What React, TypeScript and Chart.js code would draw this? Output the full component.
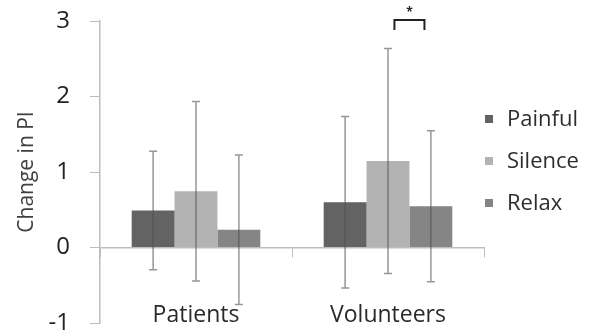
import React, { useEffect, useRef } from 'react';
import { Chart, registerables } from 'chart.js';

Chart.register(...registerables);

const categories = ['Patients', 'Volunteers'];
const seriesNames = ['Painful', 'Silence', 'Relax'];
const painful = [0.49, 0.6];
const silence = [0.745, 1.145];
const relax = [0.235, 0.545];
const painfulErr = [0.785, 1.135];
const silenceErr = [1.19, 1.49];
const relaxErr = [0.99, 1.0];
const yMin = -1;
const yMax = 3;
const yStep = 1;
const significanceLabel = '*';

const seriesValues = [painful, silence, relax];
const seriesErrors = [painfulErr, silenceErr, relaxErr];
const colors = ['#636363', '#b3b3b3', '#858585'];
const FONT = '"Open Sans", "Liberation Sans", sans-serif';

const errorBarsPlugin = {
  id: 'errorBars',
  afterDatasetsDraw(chart: any) {
    const ctx = chart.ctx;
    const y = chart.scales.y;
    chart.data.datasets.forEach((ds: any, i: number) => {
      const meta = chart.getDatasetMeta(i);
      meta.data.forEach((bar: any, j: number) => {
        const v = ds.data[j];
        const e = seriesErrors[i][j];
        const top = y.getPixelForValue(v + e);
        const bot = y.getPixelForValue(v - e);
        ctx.save();
        ctx.strokeStyle = 'rgba(80,80,80,0.6)';
        ctx.lineWidth = 1.5;
        ctx.beginPath();
        ctx.moveTo(bar.x, top);
        ctx.lineTo(bar.x, bot);
        ctx.moveTo(bar.x - 4, top);
        ctx.lineTo(bar.x + 4, top);
        ctx.moveTo(bar.x - 4, bot);
        ctx.lineTo(bar.x + 4, bot);
        ctx.stroke();
        ctx.restore();
      });
    });
  },
};

const significancePlugin = {
  id: 'significance',
  afterDatasetsDraw(chart: any) {
    const ctx = chart.ctx;
    const y = chart.scales.y;
    const a = chart.getDatasetMeta(1).data[1];
    const b = chart.getDatasetMeta(2).data[1];
    if (!a || !b) return;
    const cx = (a.x + b.x) / 2;
    const hw = a.width * 0.35;
    const top = y.getPixelForValue(yMax) - 1;
    const legs = top + 10;
    ctx.save();
    ctx.strokeStyle = '#222';
    ctx.lineWidth = 2;
    ctx.beginPath();
    ctx.moveTo(cx - hw, legs);
    ctx.lineTo(cx - hw, top);
    ctx.lineTo(cx + hw, top);
    ctx.lineTo(cx + hw, legs);
    ctx.stroke();
    ctx.fillStyle = '#222';
    ctx.font = `bold 12px ${FONT}`;
    ctx.textAlign = 'center';
    ctx.textBaseline = 'middle';
    ctx.fillText(significanceLabel, cx, top - 7);
    ctx.restore();
  },
};

const legendPlugin = {
  id: 'customLegend',
  afterDraw(chart: any) {
    const ctx = chart.ctx;
    const area = chart.chartArea;
    const x0 = area.right + 1;
    const yStart = area.top + 98;
    ctx.save();
    ctx.font = `22px ${FONT}`;
    ctx.textBaseline = 'middle';
    ctx.textAlign = 'left';
    chart.data.datasets.forEach((ds: any, i: number) => {
      const yc = yStart + i * 42;
      ctx.fillStyle = ds.backgroundColor;
      ctx.fillRect(x0, yc - 4, 8, 8);
      ctx.fillStyle = '#2e2e2e';
      ctx.fillText(ds.label, x0 + 22, yc + 1);
    });
    ctx.restore();
  },
};

export default function App() {
  const ref = useRef<HTMLCanvasElement | null>(null);
  useEffect(() => {
    document.body.style.margin = '0';
    if (!ref.current) return;
    const chart = new Chart(ref.current, {
      type: 'bar',
      data: {
        labels: categories,
        datasets: seriesNames.map((name, i) => ({
          label: name,
          data: seriesValues[i],
          backgroundColor: colors[i],
          borderWidth: 0,
          categoryPercentage: 0.67,
          barPercentage: 1.0,
        })),
      },
      options: {
        animation: false,
        responsive: false,
        devicePixelRatio: 1,
        layout: { padding: { left: 0, right: 108, top: 21, bottom: 13 } },
        plugins: { legend: { display: false }, tooltip: { enabled: false } },
        scales: {
          x: {
            position: { y: 0 } as any,
            afterFit: (s: any) => {
              s.height = 0;
            },
            grid: {
              offset: true,
              drawOnChartArea: false,
              drawTicks: true,
              tickLength: 9,
              color: '#bdbdbd',
            },
            border: { display: true, color: '#bdbdbd', width: 1.5 },
            ticks: {
              padding: 45,
              color: '#2a2a2a',
              font: { family: FONT, size: 23 },
            },
          },
          y: {
            min: yMin,
            max: yMax,
            afterFit: (s: any) => {
              s.width = 100;
              s.paddingTop = 0;
              s.paddingBottom = 0;
            },
            ticks: {
              stepSize: yStep,
              padding: 20,
              color: '#222',
              font: { family: FONT, size: 24 },
            },
            grid: {
              drawOnChartArea: false,
              drawTicks: true,
              tickLength: 10,
              color: '#bdbdbd',
            },
            border: { display: true, color: '#bdbdbd', width: 1.5 },
            title: {
              display: true,
              text: 'Change in PI',
              color: '#404040',
              font: { family: FONT, size: 21 },
              padding: { top: 14, bottom: 0 },
            },
          },
        },
      },
      plugins: [errorBarsPlugin, significancePlugin, legendPlugin],
    });
    return () => chart.destroy();
  }, []);
  return (
    <div style={{ position: 'fixed', left: 0, top: 0, width: 592, height: 336, background: '#fff' }}>
      <canvas ref={ref} width={592} height={336} style={{ width: 592, height: 336 }} />
    </div>
  );
}
